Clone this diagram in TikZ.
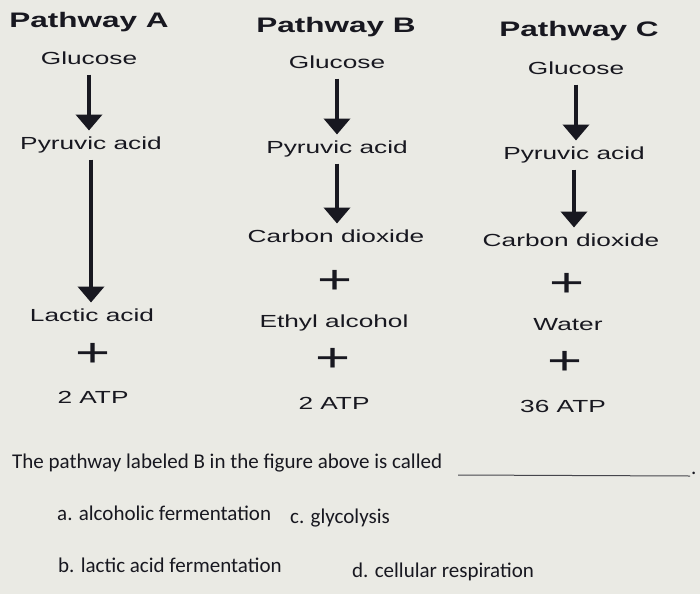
\documentclass[tikz,border=0pt]{standalone}
\usepackage{fontspec}
\usetikzlibrary{arrows.meta}
\newfontfamily\dgmfont[FakeStretch=1.5]{Liberation Sans}
\newfontfamily\qfont{Carlito}
\definecolor{bg}{RGB}{234,234,228}
\definecolor{ink}{RGB}{24,24,32}
\begin{document}
\begin{tikzpicture}[x=1pt,y=-1pt,
  head/.style={font=\dgmfont\bfseries\fontsize{21}{24}\selectfont, text=ink, inner sep=0pt},
  lbl/.style={font=\dgmfont\fontsize{17.5}{20}\selectfont, text=ink, inner sep=0pt, outer sep=6.5pt, text height=12.5pt, text depth=3.5pt},
  plus/.style={font=\dgmfont\fontsize{40}{44}\selectfont, text=ink, inner sep=0pt},
  arr/.style={draw=ink, line width=4pt, -{Triangle[width=26pt,length=16pt]}},
  qtext/.style={font=\qfont\fontsize{21}{24}\selectfont, text=ink, inner sep=0pt, anchor=base west}
]
\fill[bg] (0,0) rectangle (700,594);
\useasboundingbox (0,0) rectangle (700,594);

% Pathway A
\node[head] (hA) at (89,22) {Pathway A};
\node[lbl] (gA) at (89,60) {Glucose};
\node[lbl] (pA) at (91,145) {Pyruvic acid};
\node[lbl] (lA) at (92,317) {Lactic acid};
\node[plus] (plA) at (93,355) {+};
\node[lbl] (aA) at (93,399) {2 ATP};
\draw[arr] (gA.south) -- (gA.south |- pA.north);
\draw[arr] (pA.south) -- (pA.south |- lA.north);

% Pathway B
\node[head] (hB) at (336,27) {Pathway B};
\node[lbl] (gB) at (337,64) {Glucose};
\node[lbl] (pB) at (337,149) {Pyruvic acid};
\node[lbl] (cB) at (336,238) {Carbon dioxide};
\node[plus] (pl1B) at (335,282) {+};
\node[lbl] (eB) at (334,323) {Ethyl alcohol};
\node[plus] (pl2B) at (333,360) {+};
\node[lbl] (aB) at (334,405) {2 ATP};
\draw[arr] (gB.south) -- (gB.south |- pB.north);
\draw[arr] (pB.south) -- (pB.south |- cB.north);

% Pathway C
\node[head] (hC) at (579,31) {Pathway C};
\node[lbl] (gC) at (576,70) {Glucose};
\node[lbl] (pC) at (574,155) {Pyruvic acid};
\node[lbl] (cC) at (571,242) {Carbon dioxide};
\node[plus] (pl1C) at (567,285) {+};
\node[lbl] (wC) at (568,326) {Water};
\node[plus] (pl2C) at (565,363) {+};
\node[lbl] (aC) at (563,408) {36 ATP};
\draw[arr] (gC.south) -- (gC.south |- pC.north);
\draw[arr] (pC.south) -- (pC.south |- cC.north);

% Question
\node[qtext] (q) at (12,468) {The pathway labeled B in the figure above is called};
\coordinate (b1) at (458,475);
\coordinate (b2) at (690,476);
\draw[ink!80, line width=1pt] (b1) -- (b2);
\node[qtext] (dot) at (691,474) {.};
\node[qtext] (oa) at (57,520) {a. alcoholic fermentation};
\node[qtext] (oc) at (290,523) {c. glycolysis};
\node[qtext] (ob) at (58,572) {b. lactic acid fermentation};
\node[qtext] (od) at (352,577) {d. cellular respiration};
\end{tikzpicture}
\end{document}
